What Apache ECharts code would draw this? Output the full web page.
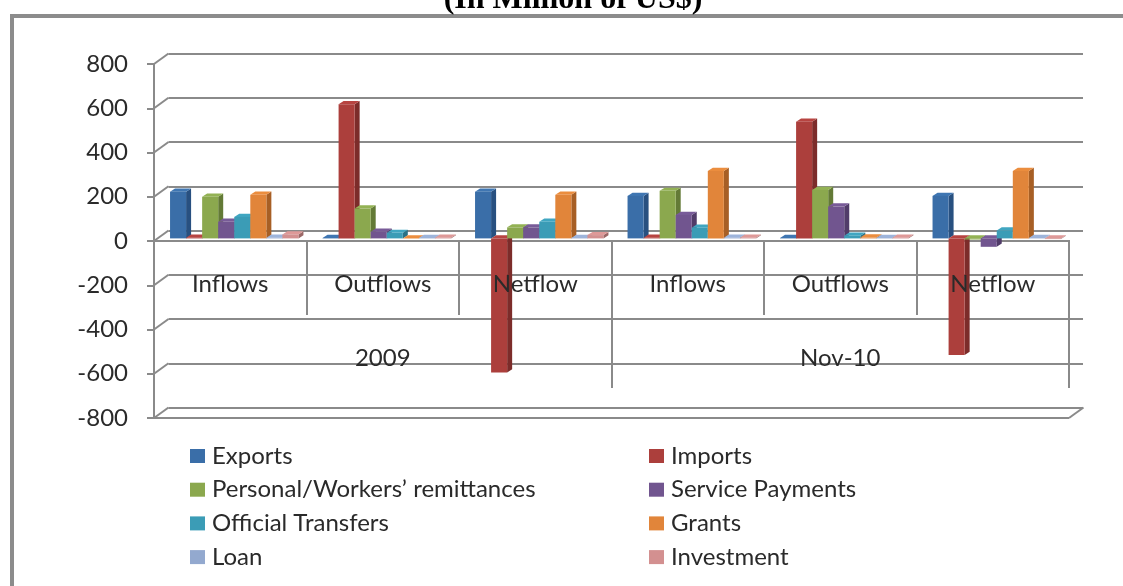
<!DOCTYPE html>
<html>
<head>
<meta charset="utf-8">
<style>html,body{margin:0;padding:0;background:#fff}#chart{width:1123px;height:586px}</style>
<script src="https://cdn.jsdelivr.net/npm/echarts@6/dist/echarts.min.js"></script>
</head>
<body>
<div id="chart"></div>
<script>
// Balance-of-payments flows by category, 2009 and Nov-10 (million US$)
const flowLabels = ['Inflows', 'Outflows', 'Netflow', 'Inflows', 'Outflows', 'Netflow'];
const periodLabels = ['2009', 'Nov-10'];
const yTicks = [800, 600, 400, 200, 0, -200, -400, -600, -800];

const exportsVals   = [211, 2, 211, 192, 2, 192];
const importsVals   = [3, 606, -606, 3, 527, -527];
const remittances   = [188, 135, 50, 215, 219, -5];
const servicePay    = [75, 30, 50, 106, 144, -38];
const officialTrans = [97, 25, 75, 48, 12, 36];
const grantsVals    = [197, 0, 197, 305, 4, 305];
const loanVals      = [3, 2, 2, 3, 2, 2];
const investmentVals = [18, 3, 15, 3, 3, -3];

const seriesNames = ['Exports', 'Imports', "Personal/Workers\u2019 remittances", 'Service Payments',
  'Official Transfers', 'Grants', 'Loan', 'Investment'];
const seriesVals = [exportsVals, importsVals, remittances, servicePay, officialTrans, grantsVals, loanVals, investmentVals];
const faceColors = ['#3A6EA8', '#AC3F3C', '#8BA84E', '#71558F', '#3B9CB6', '#E1853A', '#93A9CF', '#D39090'];
const sideColors = ['#285080', '#7C2C2A', '#637A36', '#513C69', '#2A7286', '#A75F25', '#6B7C99', '#9C6867'];
const topColors  = ['#3F76B2', '#B74441', '#93B254', '#785B98', '#40A6C1', '#EB8D3E', '#9DB4DB', '#DE9998'];

const lineGrey = '#8A8A8A';
const textColor = '#2A2A2A';
const fontFamily = 'Lato, "Open Sans", sans-serif';

// Depth of the wall behind the front plane, and of each column
const wallDx = 14.5, wallDy = -10.5;
const baseDx = 4, baseDy = -2.6;
const barDx = 5, barDy = -3.2;

function columnRenderer(index) {
  return function (params, api) {
    const cat = api.value(0);
    const band = api.size([1, 0])[0];
    const w = band / 9.5;
    const left = api.coord([cat, 0])[0] - 4 * w + baseDx;
    const x0 = left + index * w;
    const yBase = api.coord([cat, 0])[1] + baseDy;
    const yVal = api.coord([cat, api.value(1)])[1] + baseDy;
    const top = Math.min(yBase, yVal), bot = Math.max(yBase, yVal);
    const x1 = x0 + w;
    return {
      type: 'group',
      children: [
        { type: 'polygon', shape: { points: [[x1, top], [x1 + barDx, top + barDy], [x1 + barDx, bot + barDy], [x1, bot]] },
          style: { fill: sideColors[index] } },
        { type: 'polygon', shape: { points: [[x0, top], [x0 + barDx, top + barDy], [x1 + barDx, top + barDy], [x1, top]] },
          style: { fill: topColors[index] } },
        { type: 'rect', shape: { x: x0, y: top, width: w, height: bot - top },
          style: { fill: api.visual('color') } }
      ]
    };
  };
}

// Diagonals joining the front axis to the back wall, plus the front floor edges
function wallRenderer(params, api) {
  const v = api.value(1);
  const cs = params.coordSys;
  const y = api.coord([0, v])[1];
  const lineStyle = { stroke: lineGrey, lineWidth: 2, fill: 'none' };
  const children = [
    { type: 'line', shape: { x1: cs.x, y1: y, x2: cs.x + wallDx, y2: y + wallDy }, style: lineStyle }
  ];
  if (v === 0 || v === yTicks[yTicks.length - 1]) {
    children.push({ type: 'line', shape: { x1: cs.x, y1: y, x2: cs.x + cs.width, y2: y }, style: lineStyle });
  }
  if (v === yTicks[yTicks.length - 1]) {
    children.push({ type: 'line', shape: { x1: cs.x + cs.width, y1: y, x2: cs.x + cs.width + wallDx, y2: y + wallDy }, style: lineStyle });
  }
  return { type: 'group', children };
}

const legendBase = {
  orient: 'vertical',
  icon: 'rect',
  itemWidth: 15,
  itemHeight: 14,
  itemGap: 7.7,
  selectedMode: false,
  textStyle: { fontFamily, fontSize: 24, color: textColor, padding: [0, 0, 0, 2], lineHeight: 26 }
};

const chart = echarts.init(document.getElementById('chart'), null, { renderer: 'canvas' });
chart.setOption({
  animation: false,
  backgroundColor: '#fff',
  title: {
    text: '(In Million of US$)',
    left: 568,
    top: -21,
    textAlign: 'center',
    textStyle: { fontFamily: '"Liberation Serif", serif', fontWeight: 'bold', fontSize: 32, color: '#000' }
  },
  graphic: [{
    type: 'polyline',
    z: -1,
    shape: { points: [[12, 586], [12, 16], [1123, 16]] },
    style: { stroke: '#8C8C8C', lineWidth: 4, fill: 'none' }
  }],
  legend: [
    Object.assign({}, legendBase, { left: 185, top: 438, data: [seriesNames[0], seriesNames[2], seriesNames[4], seriesNames[6]] }),
    Object.assign({}, legendBase, { left: 644, top: 438, data: [seriesNames[1], seriesNames[3], seriesNames[5], seriesNames[7]] })
  ],
  grid: [
    { left: 154, right: 54, top: 64, bottom: 168, outerBoundsMode: 'none' },
    { left: 168.5, right: 40, top: 53.5, bottom: 178.5, outerBoundsMode: 'none' }
  ],
  xAxis: [
    {
      type: 'category', gridIndex: 0, data: flowLabels, z: 6, position: 'bottom',
      axisLine: { show: false, onZero: true },
      axisTick: { show: true, length: 74, interval: 0, lineStyle: { color: lineGrey, width: 2 } },
      axisLabel: { interval: 0, margin: -146, hideOverlap: false, fontFamily, fontSize: 24, color: textColor }
    },
    {
      type: 'category', gridIndex: 0, data: periodLabels, z: 6, position: 'bottom', offset: -178,
      axisLine: { show: false, onZero: false },
      axisTick: { show: true, length: 148, interval: 0, lineStyle: { color: lineGrey, width: 2 } },
      axisLabel: { interval: 0, margin: 106, hideOverlap: false, fontFamily, fontSize: 24, color: textColor }
    },
    { type: 'category', gridIndex: 1, data: flowLabels, show: false }
  ],
  yAxis: [
    {
      type: 'value', gridIndex: 0, min: -800, max: 800, interval: 200,
      axisLine: { show: true, onZero: false, lineStyle: { color: lineGrey, width: 2 } },
      axisTick: { show: true, length: 7, lineStyle: { color: lineGrey, width: 2 } },
      axisLabel: { margin: 26, fontFamily, fontSize: 24, color: textColor },
      splitLine: { show: false }
    },
    {
      type: 'value', gridIndex: 1, min: -800, max: 800, interval: 200,
      axisLine: { show: false }, axisTick: { show: false }, axisLabel: { show: false },
      splitLine: { show: true, lineStyle: { color: lineGrey, width: 2 } }
    }
  ],
  series: [
    {
      type: 'custom', name: 'wall', xAxisIndex: 0, yAxisIndex: 0, z: 1, silent: true,
      data: yTicks.map(v => [0, v]), renderItem: wallRenderer
    }
  ].concat(seriesNames.map((name, i) => ({
    type: 'custom',
    name,
    xAxisIndex: 0,
    yAxisIndex: 0,
    z: 3,
    itemStyle: { color: faceColors[i] },
    encode: { x: 0, y: 1 },
    data: seriesVals[i].map((v, c) => [c, v]),
    renderItem: columnRenderer(i)
  })))
});
</script>
</body>
</html>
